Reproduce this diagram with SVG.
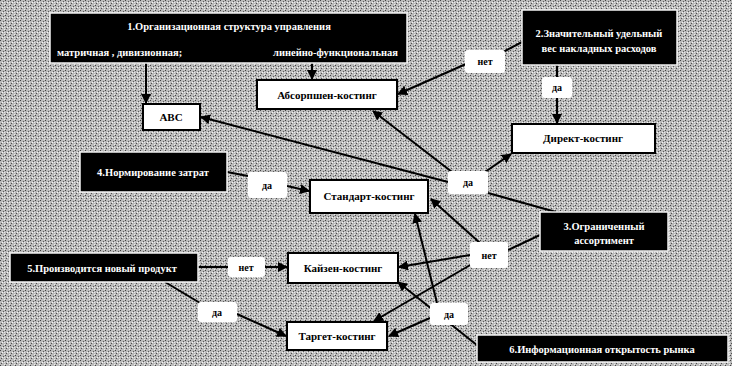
<svg xmlns="http://www.w3.org/2000/svg" width="732" height="366" viewBox="0 0 732 366">
<style>
.dk{fill:#000;stroke:#f2f2f2;stroke-width:1.5}
.wn{fill:#fff;stroke:#000;stroke-width:2}
.lb{fill:#fff;stroke:none}
.tw{fill:#fff;font-family:"Liberation Serif","DejaVu Serif",serif;font-weight:bold;font-size:10.5px}
.tb{fill:#000;font-family:"Liberation Serif","DejaVu Serif",serif;font-weight:bold;font-size:11px;text-anchor:middle}
.tl{fill:#000;font-family:"Liberation Serif","DejaVu Serif",serif;font-weight:bold;font-size:10px;text-anchor:middle}
.c{text-anchor:middle}
.ln{stroke:#000;stroke-width:2;fill:none}
.ar{marker-end:url(#ah)}
</style>
<defs>
<pattern id="noise" width="5" height="5" patternUnits="userSpaceOnUse">
<rect width="5" height="5" fill="#bababa"/>
<rect x="0" y="0" width="1" height="1" fill="#444"/>
<rect x="3" y="1" width="1" height="1" fill="#5a5a5a"/>
<rect x="1" y="3" width="1" height="1" fill="#505050"/>
<rect x="4" y="4" width="1" height="1" fill="#eee"/>
<rect x="2" y="2" width="1" height="1" fill="#f4f4f4"/>
<rect x="4" y="2" width="1" height="1" fill="#e6e6e6"/>
</pattern>
<marker id="ah" viewBox="0 0 10 10" refX="9" refY="5" markerWidth="5" markerHeight="5" orient="auto" markerUnits="strokeWidth">
<path d="M0,0 L10,5 L0,10 z" fill="#000"/>
</marker>
</defs>
<rect width="732" height="366" fill="url(#noise)"/>

<g id="connectors">
<line class="ln ar" x1="146" y1="63" x2="146" y2="103"/>
<line class="ln ar" x1="312" y1="63" x2="312" y2="79"/>
<line class="ln" x1="503" y1="52" x2="522" y2="42"/>
<line class="ln ar" x1="466" y1="64" x2="398" y2="94"/>
<line class="ln" x1="557" y1="65" x2="557" y2="77"/>
<line class="ln ar" x1="557" y1="98" x2="557" y2="123"/>
<line class="ln ar" x1="485" y1="172" x2="511" y2="154"/>
<line class="ln ar" x1="452" y1="172" x2="373" y2="111"/>
<line class="ln ar" x1="448" y1="182" x2="201" y2="117"/>
<line class="ln" x1="488" y1="193" x2="556" y2="212"/>
<line class="ln" x1="540" y1="235" x2="508" y2="250"/>
<line class="ln ar" x1="480" y1="243" x2="431" y2="199"/>
<line class="ln ar" x1="470" y1="255" x2="399" y2="267"/>
<line class="ln ar" x1="472" y1="264" x2="374" y2="321"/>
<line class="ln ar" x1="437" y1="303" x2="415" y2="214"/>
<line class="ln ar" x1="478" y1="346" x2="398" y2="282"/>
<line class="ln ar" x1="430" y1="318" x2="389" y2="336"/>
<line class="ln" x1="198" y1="267" x2="228" y2="267"/>
<line class="ln ar" x1="265" y1="267" x2="287" y2="267"/>
<line class="ln" x1="165" y1="282" x2="200" y2="303"/>
<line class="ln ar" x1="237" y1="314" x2="286" y2="336"/>
<line class="ln" x1="227" y1="172" x2="248" y2="176"/>
<line class="ln ar" x1="287" y1="186" x2="309" y2="191"/>
</g>

<g id="n1">
<rect class="dk" x="50" y="13" width="357" height="50"/>
<text class="tw c" x="229" y="30">1.Организационная структура управления</text>
<text class="tw" x="57" y="56">матричная , дивизионная;</text>
<text class="tw" x="398" y="56" text-anchor="end">линейно-функциональная</text>
</g>
<g id="abc">
<rect class="wn" x="143" y="104" width="57" height="26"/>
<text class="tb" x="171" y="121">ABC</text>
</g>
<g id="absorption">
<rect class="wn" x="257" y="80" width="140" height="29"/>
<text class="tb" x="327" y="99">Абсорпшен-костинг</text>
</g>
<g id="n2">
<rect class="dk" x="522" y="10" width="155" height="55"/>
<text class="tw c" x="599" y="37">2.Значительный удельный</text>
<text class="tw c" x="599" y="52">вес накладных расходов</text>
</g>
<g id="l-net1">
<rect class="lb" x="465" y="50" width="40" height="23" rx="3"/>
<text class="tl" x="485" y="65">нет</text>
</g>
<g id="l-da1">
<rect class="lb" x="542" y="77" width="30" height="21" rx="3"/>
<text class="tl" x="557" y="91">да</text>
</g>
<g id="direct">
<rect class="wn" x="512" y="124" width="143" height="29"/>
<text class="tb" x="583" y="142">Директ-костинг</text>
</g>
<g id="l-da2">
<rect class="lb" x="448" y="171" width="40" height="23" rx="3"/>
<text class="tl" x="468" y="186">да</text>
</g>
<g id="n4">
<rect class="dk" x="80" y="152" width="147" height="40"/>
<text class="tw c" x="153" y="176">4.Нормирование затрат</text>
</g>
<g id="l-da3">
<rect class="lb" x="248" y="172" width="39" height="26" rx="3"/>
<text class="tl" x="267" y="189">да</text>
</g>
<g id="standard">
<rect class="wn" x="310" y="180" width="118" height="33"/>
<text class="tb" x="369" y="200">Стандарт-костинг</text>
</g>
<g id="n3">
<rect class="dk" x="540" y="212" width="128" height="39"/>
<text class="tw c" x="604" y="230">3.Ограниченный</text>
<text class="tw c" x="604" y="244">ассортимент</text>
</g>
<g id="l-net2">
<rect class="lb" x="470" y="242" width="38" height="26" rx="3"/>
<text class="tl" x="489" y="259">нет</text>
</g>
<g id="n5">
<rect class="dk" x="10" y="253" width="188" height="29"/>
<text class="tw c" x="102" y="272">5.Производится новый продукт</text>
</g>
<g id="l-net3">
<rect class="lb" x="228" y="257" width="37" height="20" rx="3"/>
<text class="tl" x="246" y="271">нет</text>
</g>
<g id="kaizen">
<rect class="wn" x="288" y="253" width="110" height="30"/>
<text class="tb" x="343" y="272">Кайзен-костинг</text>
</g>
<g id="l-da4">
<rect class="lb" x="198" y="302" width="39" height="20" rx="3"/>
<text class="tl" x="217" y="316">да</text>
</g>
<g id="target">
<rect class="wn" x="287" y="322" width="100" height="28"/>
<text class="tb" x="337" y="340">Таргет-костинг</text>
</g>
<g id="l-da5">
<rect class="lb" x="430" y="303" width="38" height="22" rx="3"/>
<text class="tl" x="449" y="318">да</text>
</g>
<g id="n6">
<rect class="dk" x="477" y="335" width="251" height="27"/>
<text class="tw c" x="602" y="353">6.Информационная открытость рынка</text>
</g>
</svg>
